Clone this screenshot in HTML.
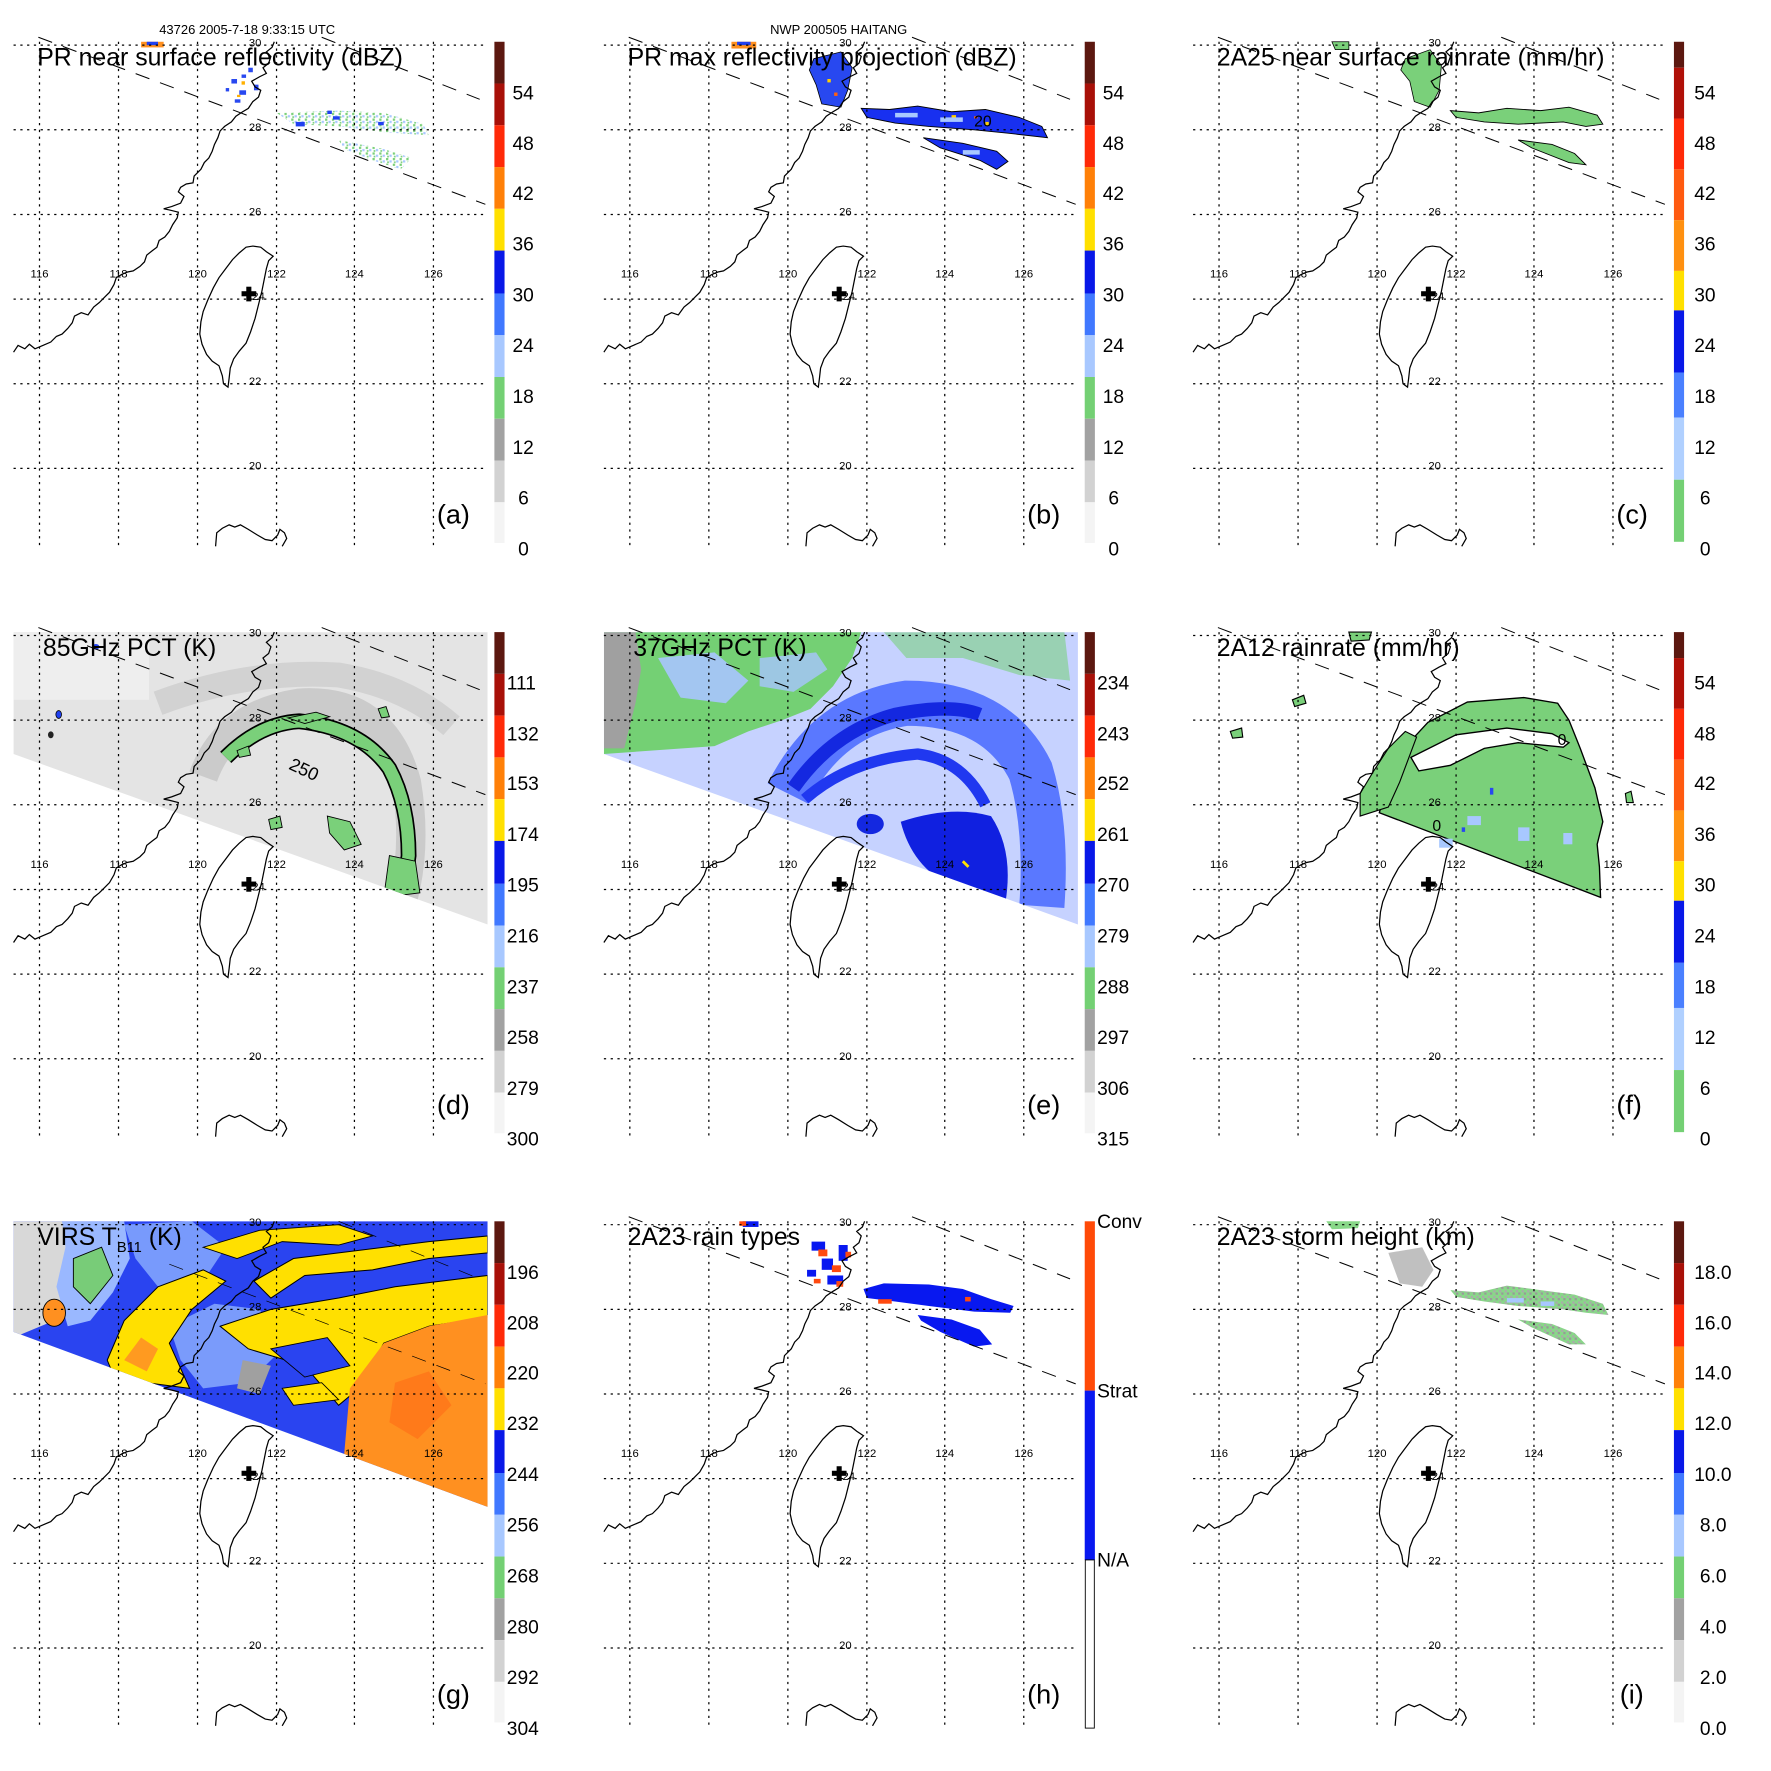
<!DOCTYPE html>
<html><head><meta charset="utf-8"><style>
html,body{margin:0;padding:0;background:#fff}
svg{display:block}
text{font-family:"Liberation Sans",Arial,sans-serif}
</style></head><body>
<svg xmlns="http://www.w3.org/2000/svg" xmlns:xlink="http://www.w3.org/1999/xlink" width="1771" height="1771" viewBox="0 0 1569 1569">
<defs>
<clipPath id="sw"><polygon points="12,37 432,37 432,296 12,145"/></clipPath>
<clipPath id="swg"><polygon points="12,37 432,37 432,290 12,135"/></clipPath>
<pattern id="pg" width="6" height="5" patternUnits="userSpaceOnUse"><rect x="0" y="0" width="2" height="2" fill="#7ad07a"/><rect x="3" y="2" width="2" height="2" fill="#a8c8ff"/><rect x="1" y="3" width="1.5" height="1.5" fill="#7ad07a"/></pattern>
<pattern id="pi" width="5" height="5" patternUnits="userSpaceOnUse"><rect width="5" height="5" fill="#88d888"/><rect x="0" y="0" width="2" height="2" fill="#999"/><rect x="3" y="3" width="2" height="2" fill="#aaa"/></pattern>
<g id="base">
 <g stroke="#000" stroke-width="1.1" stroke-dasharray="2,4" fill="none">
  <path d="M12,40H432M12,115H432M12,190H432M12,265H432M12,340H432M12,415H432"/>
  <path d="M35,37V487M105,37V487M175,37V487M245,37V487M314,37V487M384,37V487"/>
 </g>
 <g fill="none" stroke="#000" stroke-width="1.1">
  <polyline points="12,312 16,306 22,309 26,305 31,309 38,306 45,303 50,298 55,296 60,291 64,286 66,280 72,277 78,279 83,272 88,268 93,263 97,259 101,252 103,246 108,243 113,241 118,240 124,236 128,232 130,226 135,222 139,219 141,213 146,210 150,205 153,199 157,193 158,188 150,186 145,185 152,183 160,180 163,174 158,170 160,166 165,163 171,162 172,156 178,150 181,144 185,140 188,134 190,128 193,122 195,116 199,112 205,108 209,103 215,99 220,96 224,90 229,86 231,80 226,77 223,72 230,68 236,65 233,60 238,56 240,50 236,46 241,42 243,37"/>
  <path d="M224,218 L231,219 236,223 242,227 238,231 236,238 234,248 232,258 229,270 226,282 222,294 218,304 212,311 207,318 204,326 203,335 202,343 198,340 197,333 194,324 188,320 183,314 179,305 177,296 178,285 180,276 184,266 189,255 194,246 200,238 206,230 212,224 218,219 Z"/>
  <polyline points="191,484 192,472 197,468 203,465 208,467 213,465 220,469 228,474 235,478 241,479 246,474 248,469 252,472 254,477 250,484"/>
 </g>
 <rect x="214" y="258" width="13" height="4.5" fill="#000"/><rect x="218.2" y="254" width="4.5" height="13" fill="#000"/>
 <g font-size="10" text-anchor="middle" fill="#000">
  <text x="226" y="41">30</text><text x="226" y="116">28</text><text x="226" y="191">26</text><text x="229" y="266">24</text><text x="226" y="341">22</text><text x="226" y="416">20</text>
  <text x="35" y="246">116</text><text x="105" y="246">118</text><text x="175" y="246">120</text><text x="245" y="246">122</text><text x="314" y="246">124</text><text x="384" y="246">126</text>
 </g>
</g>
<g id="sw1" fill="none" stroke="#000" stroke-width="0.9" stroke-dasharray="13,10">
 <path d="M34,33 L430,181"/><path d="M285,33 L425,88"/>
</g>
<g id="barA">
 <rect x="438" y="37" width="9" height="37" fill="#5c1810"/><rect x="438" y="74" width="9" height="37" fill="#a81008"/>
 <rect x="438" y="111" width="9" height="37" fill="#ff2a08"/><rect x="438" y="148" width="9" height="37" fill="#ff8008"/>
 <rect x="438" y="185" width="9" height="37" fill="#ffe000"/><rect x="438" y="222" width="9" height="38" fill="#0818e8"/>
 <rect x="438" y="260" width="9" height="37" fill="#4078ff"/><rect x="438" y="297" width="9" height="37" fill="#a8c8ff"/>
 <rect x="438" y="334" width="9" height="37" fill="#74d074"/><rect x="438" y="371" width="9" height="37" fill="#a2a2a2"/>
 <rect x="438" y="408" width="9" height="37" fill="#d2d2d2"/><rect x="438" y="445" width="9" height="36" fill="#f4f4f4"/>
</g>
<g id="barC">
 <rect x="438" y="37" width="9" height="23" fill="#5c1810"/><rect x="438" y="60" width="9" height="45" fill="#b01008"/>
 <rect x="438" y="105" width="9" height="45" fill="#ff2a08"/><rect x="438" y="150" width="9" height="45" fill="#ff5a10"/>
 <rect x="438" y="195" width="9" height="45" fill="#ff9010"/><rect x="438" y="240" width="9" height="35" fill="#ffe000"/>
 <rect x="438" y="275" width="9" height="55" fill="#0818e8"/><rect x="438" y="330" width="9" height="40" fill="#4a80ff"/>
 <rect x="438" y="370" width="9" height="55" fill="#b0d0ff"/><rect x="438" y="425" width="9" height="55" fill="#74d074"/>
</g>
</defs>
<rect width="1569" height="1569" fill="#fff"/>

<g font-size="11.5" text-anchor="middle"><text x="219" y="30">43726 2005-7-18 9:33:15 UTC</text><text x="743" y="30">NWP 200505 HAITANG</text></g>

<!-- Panel a -->
<g>
 <path d="M245,100 L300,98 340,100 375,110 380,120 340,117 300,112 260,110Z" fill="url(#pg)"/>
 <path d="M300,124 L340,132 365,140 355,150 330,142 305,132Z" fill="url(#pg)"/>
 <g fill="#2040f0"><rect x="262" y="108" width="8" height="4"/><rect x="295" y="103" width="6" height="3"/><rect x="335" y="108" width="5" height="3"/><rect x="290" y="98" width="4" height="3"/></g>
 <g fill="#2848f0"><rect x="205" y="70" width="5" height="4"/><rect x="212" y="80" width="6" height="4"/><rect x="220" y="60" width="4" height="4"/><rect x="208" y="88" width="5" height="3"/><rect x="225" y="75" width="4" height="5"/><rect x="200" y="78" width="3" height="3"/><rect x="214" y="66" width="4" height="3"/></g>
 <g fill="#ffb000"><rect x="214" y="72" width="3" height="3"/><rect x="210" y="84" width="3" height="2"/></g>
 <rect x="125" y="37" width="20" height="5" fill="#ff9020"/><rect x="130" y="37" width="10" height="3" fill="#2040f0"/>
 <use xlink:href="#sw1"/><use xlink:href="#base"/><use xlink:href="#barA"/>
 <g font-size="17"><text x="454" y="88">54</text><text x="454" y="133">48</text><text x="454" y="177">42</text><text x="454" y="222">36</text><text x="454" y="267">30</text><text x="454" y="312">24</text><text x="454" y="357">18</text><text x="454" y="402">12</text><text x="459" y="447">6</text><text x="459" y="492">0</text></g>
 <text x="33" y="58" font-size="22">PR near surface reflectivity (dBZ)</text><text x="387" y="464" font-size="24">(a)</text>
</g>

<!-- Panel b -->
<g transform="translate(523,0)">
 <path d="M240,96 L265,97 290,94 320,99 350,97 380,104 400,112 405,122 370,118 340,115 300,112 270,109 245,104Z" fill="#1830f0" stroke="#000" stroke-width="0.8"/>
 <path d="M295,122 L330,127 360,134 370,143 360,150 345,142 310,131Z" fill="#1830f0" stroke="#000" stroke-width="0.8"/>
 <path d="M198,52 L222,46 232,60 228,80 222,95 205,92 200,75 194,62Z" fill="#2848f0" stroke="#000" stroke-width="0.7"/>
 <g fill="#ffd000"><rect x="210" y="70" width="3" height="3"/><rect x="320" y="102" width="4" height="3"/><rect x="350" y="108" width="3" height="3"/></g>
 <g fill="#ff6010"><rect x="216" y="82" width="3" height="3"/><rect x="340" y="103" width="3" height="2"/></g>
 <g fill="#a8c8ff"><rect x="270" y="100" width="20" height="4"/><rect x="310" y="104" width="20" height="4"/><rect x="330" y="133" width="15" height="4"/></g>
 <rect x="125" y="37" width="22" height="6" fill="#ff9020"/><rect x="130" y="37" width="12" height="3" fill="#2040f0"/>
 <text x="340" y="112" font-size="14">20</text>
 <use xlink:href="#sw1"/><use xlink:href="#base"/><use xlink:href="#barA"/>
 <g font-size="17"><text x="454" y="88">54</text><text x="454" y="133">48</text><text x="454" y="177">42</text><text x="454" y="222">36</text><text x="454" y="267">30</text><text x="454" y="312">24</text><text x="454" y="357">18</text><text x="454" y="402">12</text><text x="459" y="447">6</text><text x="459" y="492">0</text></g>
 <text x="33" y="58" font-size="22">PR max reflectivity projection (dBZ)</text><text x="387" y="464" font-size="24">(b)</text>
</g>

<!-- Panel c -->
<g transform="translate(1045,0)">
 <path d="M240,98 L265,100 290,96 320,98 345,95 370,102 375,110 360,112 340,108 300,110 270,108 245,104Z" fill="#7ad07a" stroke="#000" stroke-width="0.8"/>
 <path d="M300,124 L330,128 350,136 360,146 345,144 312,131Z" fill="#7ad07a" stroke="#000" stroke-width="0.8"/>
 <path d="M200,52 L222,44 232,58 230,80 222,95 208,90 204,72 196,62Z" fill="#7ad07a" stroke="#000" stroke-width="0.7"/>
 <path d="M135,37 L150,37 150,44 138,44Z" fill="#7ad07a" stroke="#000" stroke-width="0.7"/>
 <use xlink:href="#sw1"/><use xlink:href="#base"/><use xlink:href="#barC"/>
 <g font-size="17"><text x="456" y="88">54</text><text x="456" y="133">48</text><text x="456" y="177">42</text><text x="456" y="222">36</text><text x="456" y="267">30</text><text x="456" y="312">24</text><text x="456" y="357">18</text><text x="456" y="402">12</text><text x="461" y="447">6</text><text x="461" y="492">0</text></g>
 <text x="33" y="58" font-size="22">2A25 near surface rainrate (mm/hr)</text><text x="387" y="464" font-size="24">(c)</text>
</g>

<!-- Panel d -->
<g transform="translate(0,523)">
 <g clip-path="url(#sw)">
  <rect x="0" y="0" width="440" height="300" fill="#e4e4e4"/>
  <rect x="12" y="37" width="120" height="60" fill="#eeeeee"/>
  <path d="M180,165 Q200,110 265,100 Q340,95 360,170 Q370,230 355,280" fill="none" stroke="#c4c4c4" stroke-width="26" opacity="0.8"/>
  <path d="M140,100 Q220,70 300,75 Q360,85 400,120" fill="none" stroke="#d2d2d2" stroke-width="22"/>
  <path d="M200,148 Q230,118 265,116 Q320,122 345,158 Q362,190 362,235 Q360,255 352,268" fill="none" stroke="#000" stroke-width="14"/>
  <path d="M200,148 Q230,118 265,116 Q320,122 345,158 Q362,190 362,235 Q360,255 352,268" fill="none" stroke="#7ad07a" stroke-width="11"/>
  <path d="M345,235 L368,240 372,268 340,272Z" fill="#7ad07a" stroke="#000" stroke-width="0.8"/>
  <path d="M290,200 L310,205 320,225 305,230 292,215Z" fill="#7ad07a" stroke="#000" stroke-width="0.8"/>
  <path d="M255,113 L280,108 292,112 270,118Z" fill="#7ad07a" stroke="#000" stroke-width="0.8"/>
  <path d="M335,105 L342,103 345,112 338,113Z" fill="#7ad07a" stroke="#000" stroke-width="0.8"/>
  <path d="M238,203 L248,200 250,210 240,212Z" fill="#7ad07a" stroke="#000" stroke-width="0.8"/>
  <path d="M210,142 L220,138 222,146 212,148Z" fill="#7ad07a" stroke="#000" stroke-width="0.8"/>
  <ellipse cx="52" cy="110" rx="2.5" ry="3.5" fill="#2040f0" stroke="#000" stroke-width="0.7"/>
  <ellipse cx="45" cy="128" rx="2.5" ry="3" fill="#222"/>
  <ellipse cx="85" cy="50" rx="3" ry="2.5" fill="#2040f0"/>
 </g>
 <use xlink:href="#sw1"/><use xlink:href="#base"/><use xlink:href="#barA"/>
 <text x="255" y="158" font-size="16" transform="rotate(25 255 158)">250</text>
 <g font-size="17"><text x="449" y="88">111</text><text x="449" y="133">132</text><text x="449" y="177">153</text><text x="449" y="222">174</text><text x="449" y="267">195</text><text x="449" y="312">216</text><text x="449" y="357">237</text><text x="449" y="402">258</text><text x="449" y="447">279</text><text x="449" y="492">300</text></g>
 <text x="38" y="58" font-size="22">85GHz PCT (K)</text><text x="387" y="464" font-size="24">(d)</text>
</g>

<!-- Panel e -->
<g transform="translate(523,523)">
 <g clip-path="url(#sw)">
  <rect x="0" y="0" width="440" height="300" fill="#c6d2ff"/>
  <path d="M12,37 L240,37 232,60 215,85 195,105 170,115 140,125 110,138 12,145Z" fill="#74d074"/>
  <path d="M12,37 L40,37 45,70 40,100 30,140 12,140Z" fill="#a0a0a0"/>
  <path d="M60,60 L110,55 140,80 120,100 80,95Z" fill="#a8c4ff" opacity="0.9"/>
  <path d="M150,60 L200,55 210,70 180,90 150,85Z" fill="#a8c4ff" opacity="0.8"/>
  <path d="M260,37 L420,37 425,80 380,75 330,60 280,60Z" fill="#74d074" opacity="0.55"/>
  <path d="M175,180 Q210,110 280,100 Q360,100 390,160 Q405,210 400,280" fill="none" stroke="#5a78ff" stroke-width="40"/>
  <path d="M180,175 Q215,125 270,110 Q320,100 345,110" fill="none" stroke="#1428e0" stroke-width="12"/>
  <path d="M190,185 Q230,150 290,145 Q330,150 350,190" fill="none" stroke="#2038f0" stroke-width="10"/>
  <path d="M275,205 Q320,190 355,200 Q375,230 368,275 L320,262 Q285,245 275,205Z" fill="#1020e0"/>
  <ellipse cx="248" cy="207" rx="12" ry="9" fill="#1428e0"/>
  <path d="M330,240 l5,5" stroke="#ffe000" stroke-width="2.5"/>
 </g>
 <use xlink:href="#sw1"/><use xlink:href="#base"/><use xlink:href="#barA"/>
 <g font-size="17"><text x="449" y="88">234</text><text x="449" y="133">243</text><text x="449" y="177">252</text><text x="449" y="222">261</text><text x="449" y="267">270</text><text x="449" y="312">279</text><text x="449" y="357">288</text><text x="449" y="402">297</text><text x="449" y="447">306</text><text x="449" y="492">315</text></g>
 <text x="38" y="58" font-size="22">37GHz PCT (K)</text><text x="387" y="464" font-size="24">(e)</text>
</g>

<!-- Panel f -->
<g transform="translate(1045,523)">
 <path d="M177,197 L185,170 195,142 208,130 220,117 255,99 305,95 335,100 345,115 355,140 368,175 375,205 370,225 372,245 373,272 Z" fill="#7ad07a" stroke="#000" stroke-width="1.2"/>
 <path d="M205,148 L245,128 290,122 330,127 345,135 340,139 300,135 270,140 240,155 212,160Z" fill="#fff" stroke="#000" stroke-width="1.2"/>
 <g fill="#a8c8ff"><rect x="255" y="200" width="12" height="8"/><rect x="300" y="210" width="10" height="12"/><rect x="230" y="220" width="12" height="8"/><rect x="340" y="215" width="8" height="10"/></g>
 <g fill="#2848f0"><rect x="275" y="175" width="3" height="6"/><rect x="250" y="210" width="3" height="4"/></g>
 <path d="M160,200 L185,192 195,170 210,130 200,125 185,140 172,160 160,180Z" fill="#7ad07a" stroke="#000" stroke-width="1"/>
 <path d="M100,97 L110,93 112,100 102,103Z" fill="#7ad07a" stroke="#000" stroke-width="1"/>
 <path d="M45,125 L55,122 56,130 47,131Z" fill="#7ad07a" stroke="#000" stroke-width="1"/>
 <path d="M150,37 L170,37 168,44 152,45Z" fill="#7ad07a" stroke="#000" stroke-width="1"/>
 <path d="M395,180 L400,178 402,188 396,188Z" fill="#7ad07a" stroke="#000" stroke-width="1"/>
 <text x="335" y="137" font-size="14">0</text><text x="224" y="213" font-size="14">0</text>
 <use xlink:href="#sw1"/><use xlink:href="#base"/><use xlink:href="#barC"/>
 <g font-size="17"><text x="456" y="88">54</text><text x="456" y="133">48</text><text x="456" y="177">42</text><text x="456" y="222">36</text><text x="456" y="267">30</text><text x="456" y="312">24</text><text x="456" y="357">18</text><text x="456" y="402">12</text><text x="461" y="447">6</text><text x="461" y="492">0</text></g>
 <text x="33" y="58" font-size="22">2A12 rainrate (mm/hr)</text><text x="387" y="464" font-size="24">(f)</text>
</g>

<!-- Panel g -->
<g transform="translate(0,1045)">
 <g clip-path="url(#swg)">
  <rect x="0" y="0" width="440" height="300" fill="#2a44f0"/>
  <path d="M12,37 L55,37 65,60 55,90 60,120 12,140Z" fill="#d8d8d8"/>
  <path d="M55,37 L110,37 115,70 100,100 80,125 60,130 50,95 58,60Z" fill="#9ab8ff"/>
  <path d="M65,70 L90,60 100,85 80,110 65,95Z" fill="#78cc78" stroke="#000" stroke-width="0.8"/>
  <ellipse cx="48" cy="118" rx="10" ry="12" fill="#ff9020" stroke="#000" stroke-width="0.8"/>
  <path d="M110,40 L170,37 200,60 180,90 140,95 120,70Z" fill="#8cb0ff" opacity="0.8"/>
  <path d="M150,130 L190,110 230,115 250,150 220,180 180,185 160,160Z" fill="#9cc0ff" opacity="0.7"/>
  <path d="M95,160 L110,125 140,95 180,80 200,90 170,115 150,145 168,185 130,180 100,172Z" fill="#ffe000" stroke="#000" stroke-width="0.9"/>
  <path d="M110,160 L125,140 140,150 130,170Z" fill="#ff9a20"/>
  <path d="M195,130 L240,115 300,105 350,95 432,85 432,122 380,130 340,145 318,185 300,200 270,165 220,150Z" fill="#ffe000" stroke="#000" stroke-width="0.9"/>
  <path d="M225,90 L260,70 300,65 340,60 380,55 432,50 432,65 380,70 330,80 270,85 240,105Z" fill="#ffe000" stroke="#000" stroke-width="0.9"/>
  <path d="M180,60 L230,45 300,40 330,50 300,58 250,55 210,70Z" fill="#ffe000" stroke="#000" stroke-width="0.8"/>
  <path d="M310,185 L340,145 380,130 432,120 432,300 300,300Z" fill="#ff9020"/>
  <path d="M350,180 L380,170 400,200 370,230 345,215Z" fill="#ff7018" opacity="0.7"/>
  <path d="M240,150 L290,140 310,165 270,175Z" fill="#2a44f0" stroke="#000" stroke-width="0.8"/>
  <path d="M250,185 L285,180 300,195 260,200Z" fill="#ffe000" stroke="#000" stroke-width="0.8"/>
  <path d="M215,160 L240,165 230,190 210,185Z" fill="#a0a0a0"/>
 </g>
 <g fill="none" stroke="#000" stroke-width="0.6" stroke-dasharray="13,10"><path d="M150,75 L430,181"/><path d="M300,37 L425,88"/></g>
 <use xlink:href="#base"/><use xlink:href="#barA"/>
 <g font-size="17"><text x="449" y="88">196</text><text x="449" y="133">208</text><text x="449" y="177">220</text><text x="449" y="222">232</text><text x="449" y="267">244</text><text x="449" y="312">256</text><text x="449" y="357">268</text><text x="449" y="402">280</text><text x="449" y="447">292</text><text x="449" y="492">304</text></g>
 <text x="33" y="58" font-size="22">VIRS T<tspan font-size="13" dy="6">B11</tspan><tspan dy="-6"> (K)</tspan></text><text x="387" y="464" font-size="24">(g)</text>
</g>

<!-- Panel h -->
<g transform="translate(523,1045)">
 <path d="M242,97 L260,92 300,93 330,97 355,106 375,112 372,118 340,117 300,112 270,108 245,105Z" fill="#0818f0"/>
 <path d="M290,120 L320,124 345,133 356,146 340,148 310,135 293,125Z" fill="#0818f0"/>
 <g fill="#0818f0"><rect x="196" y="55" width="12" height="8"/><rect x="205" y="70" width="10" height="10"/><rect x="220" y="58" width="8" height="14"/><rect x="210" y="85" width="14" height="8"/><rect x="192" y="80" width="8" height="6"/><rect x="135" y="37" width="14" height="5"/></g>
 <g fill="#ff4a10"><rect x="202" y="62" width="8" height="6"/><rect x="214" y="76" width="8" height="6"/><rect x="218" y="90" width="6" height="5"/><rect x="198" y="88" width="6" height="4"/><rect x="226" y="64" width="5" height="5"/><rect x="132" y="37" width="6" height="4"/><rect x="255" y="106" width="12" height="4"/><rect x="332" y="104" width="5" height="4"/></g>
 <use xlink:href="#sw1"/><use xlink:href="#base"/>
 <rect x="438" y="37" width="9" height="150" fill="#ff4a08"/><rect x="438" y="187" width="9" height="150" fill="#0818f0"/><rect x="438.5" y="337" width="8" height="149" fill="#fff" stroke="#000" stroke-width="0.8"/>
 <g font-size="17"><text x="449" y="43">Conv</text><text x="449" y="193">Strat</text><text x="449" y="343">N/A</text></g>
 <text x="33" y="58" font-size="22">2A23 rain types</text><text x="387" y="464" font-size="24">(h)</text>
</g>

<!-- Panel i -->
<g transform="translate(1045,1045)">
 <path d="M240,98 L265,100 290,94 320,98 350,102 375,110 380,120 360,118 340,115 300,112 270,108 245,104Z" fill="url(#pi)"/>
 <path d="M300,124 L330,128 350,136 360,146 345,146 312,131Z" fill="url(#pi)"/>
 <path d="M185,65 L215,60 225,80 215,95 195,92Z" fill="#b0b0b0" opacity="0.8"/>
 <path d="M130,37 L160,37 158,43 135,44Z" fill="#88d888"/>
 <g fill="#a8c8ff"><rect x="290" y="105" width="15" height="4"/><rect x="320" y="108" width="12" height="4"/></g>
 <use xlink:href="#sw1"/><use xlink:href="#base"/><use xlink:href="#barA"/>
 <g font-size="17"><text x="456" y="88">18.0</text><text x="456" y="133">16.0</text><text x="456" y="177">14.0</text><text x="456" y="222">12.0</text><text x="456" y="267">10.0</text><text x="461" y="312">8.0</text><text x="461" y="357">6.0</text><text x="461" y="402">4.0</text><text x="461" y="447">2.0</text><text x="461" y="492">0.0</text></g>
 <text x="33" y="58" font-size="22">2A23 storm height (km)</text><text x="390" y="464" font-size="24">(i)</text>
</g>
</svg>
</body></html>
